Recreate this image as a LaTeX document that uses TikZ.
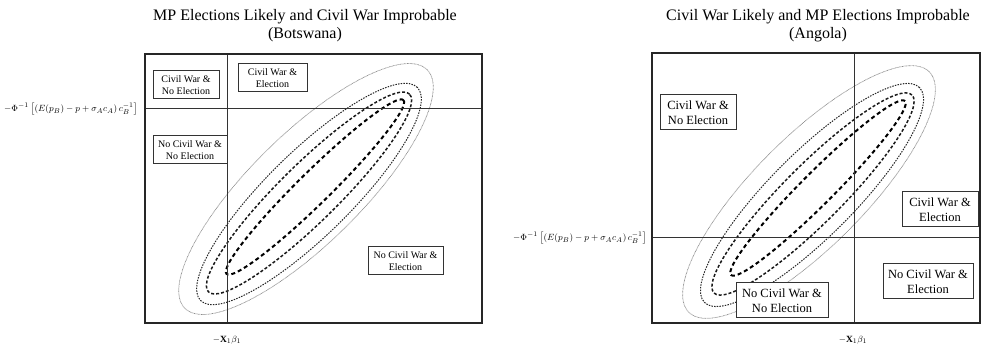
\documentclass[tikz,border=0pt]{standalone}
\usepackage{fontspec}
\setmainfont{Liberation Serif}
\newcommand{\myylabel}{\ensuremath{-\Phi^{-1}\left[\left(E(p_B)-p+\sigma_A c_A\right)c_B^{-1}\right]}}
\newcommand{\myxlabel}{\ensuremath{-\mathbf{X}_1\beta_1}}
\begin{document}
\begin{tikzpicture}[x=1pt,y=1pt,
  frame/.style={line width=1.5pt, draw=black!85},
  axisline/.style={line width=1pt, draw=black!80},
  smallbox/.style={draw=black!80, line width=1pt, align=center, font=\fontsize{10}{12}\selectfont, inner sep=0pt, minimum height=28pt},
  bigbox/.style={draw=black!80, line width=1pt, align=center, font=\fontsize{12.5}{15}\selectfont, inner sep=0pt, minimum height=35pt},
  titletext/.style={align=center, font=\fontsize{16}{18}\selectfont},
  axlabel/.style={font=\fontsize{9.5}{11}\selectfont, inner sep=0pt},
  ellgray/.style={draw=black!45, line width=0.7pt, dash pattern=on 0.8pt off 0.6pt},
  elldot/.style={draw=black!85, line width=1pt, dash pattern=on 1.5pt off 1.2pt},
  elldash/.style={draw=black!90, line width=1.5pt, dash pattern=on 3pt off 2pt},
  ellthick/.style={draw=black, line width=2pt, dash pattern=on 4pt off 3pt}
]
\useasboundingbox (0,0) rectangle (981,347);

% ---------------- Left panel ----------------
\node[titletext] (tl) at (305,321) {MP Elections Likely and Civil War Improbable\\(Botswana)};
\coordinate (lfA) at (145,293);
\coordinate (lfB) at (482,24);
\coordinate (lvT) at (227,293);
\coordinate (lvB) at (227,24);
\coordinate (lhL) at (145,238);
\coordinate (lhR) at (482,238);
\coordinate (lcT) at (315,160);
\coordinate (lcD) at (309,154);
\coordinate (lcO) at (309,153);
\coordinate (lg) at (306,158);

\draw[ellgray, rotate around={44.5:(lg)}] (lg) ellipse [x radius=170pt, y radius=55pt];
\draw[elldot, rotate around={44.5:(lcO)}] (lcO) ellipse [x radius=152pt, y radius=42pt];
\draw[elldash, rotate around={44.5:(lcD)}] (lcD) ellipse [x radius=141pt, y radius=29pt];
\draw[ellthick, rotate around={44.5:(lcT)}] (lcT) ellipse [x radius=124pt, y radius=16pt];

\draw[axisline] (lvT) -- (lvB);
\draw[axisline] (lhL) -- (lhR);
\draw[frame] (lfA) rectangle (lfB);

\node[smallbox, minimum width=66pt] (l1) at (186,262) {Civil War \&\\No Election};
\node[smallbox, minimum width=69pt] (l2) at (272.5,269) {Civil War \&\\Election};
\node[smallbox, minimum width=74pt] (l3) at (190,197) {No Civil War \&\\No Election};
\node[smallbox, minimum width=75pt] (l4) at (405.5,86) {No Civil War \&\\Election};

\node[axlabel] (lyl) at (71,238) {\myylabel};
\node[axlabel] (lxl) at (227,7) {\myxlabel};

% ---------------- Right panel ----------------
\node[titletext] (tr) at (818,321) {Civil War Likely and MP Elections Improbable\\(Angola)};
\coordinate (rfA) at (652,294);
\coordinate (rfB) at (980,24);
\coordinate (rvT) at (854,294);
\coordinate (rvB) at (854,24);
\coordinate (rhL) at (652,109);
\coordinate (rhR) at (980,109);
\coordinate (rcT) at (818,159);
\coordinate (rcD) at (813,153);
\coordinate (rcO) at (812,152);
\coordinate (rg) at (809,155);

\draw[ellgray, rotate around={45:(rg)}] (rg) ellipse [x radius=170pt, y radius=55pt];
\draw[elldot, rotate around={45:(rcO)}] (rcO) ellipse [x radius=152pt, y radius=42pt];
\draw[elldash, rotate around={45:(rcD)}] (rcD) ellipse [x radius=140pt, y radius=29pt];
\draw[ellthick, rotate around={45:(rcT)}] (rcT) ellipse [x radius=123pt, y radius=16pt];

\draw[axisline] (rvT) -- (rvB);
\draw[axisline] (rhL) -- (rhR);
\draw[frame] (rfA) rectangle (rfB);

\node[bigbox, minimum width=76pt, fill=white] (r1) at (698,234.5) {Civil War \&\\No Election};
\node[bigbox, minimum width=76pt, fill=white] (r2) at (940,137.5) {Civil War \&\\Election};
\node[bigbox, minimum width=90pt, fill=white] (r3) at (928,65.5) {No Civil War \&\\Election};
\node[bigbox, minimum width=92pt, fill=white] (r4) at (782,46.5) {No Civil War \&\\No Election};

\node[axlabel] (ryl) at (580,109) {\myylabel};
\node[axlabel] (rxl) at (853,7) {\myxlabel};
\end{tikzpicture}
\end{document}
